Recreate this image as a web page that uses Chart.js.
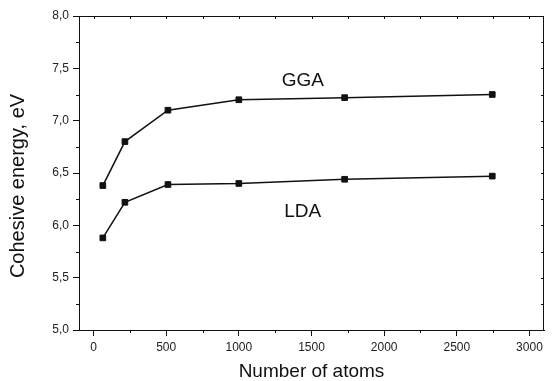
<!DOCTYPE html>
<html>
<head>
<meta charset="utf-8">
<script src="https://cdn.jsdelivr.net/npm/chart.js@4.4.0/dist/chart.umd.min.js"></script>
<style>
  html, body { margin: 0; padding: 0; background: #fff; }
  #chart { display: block; }
</style>
</head>
<body>
<canvas id="chart" width="558" height="381"></canvas>
<script>
// values
const atoms = [64, 216, 512, 1000, 1728, 2744];
const ggaEnergy = [6.38, 6.80, 7.10, 7.20, 7.22, 7.25];
const ldaEnergy = [5.88, 6.22, 6.39, 6.40, 6.44, 6.47];

const xMinorTicks = [250, 750, 1250, 1750, 2250, 2750];
const xMajorTicks = [0, 500, 1000, 1500, 2000, 2500, 3000];
const yMinorTicks = [5.25, 5.75, 6.25, 6.75, 7.25, 7.75];
const yMajorTicks = [5.0, 5.5, 6.0, 6.5, 7.0, 7.5, 8.0];

const FONT = '"Liberation Sans", Arial, sans-serif';
const INK = '#111';

function toPoints(xs, ys) {
  return xs.map((v, i) => ({ x: v, y: ys[i] }));
}

// frame, minor ticks, mirrored inner ticks and the in-plot text
const frameTicks = {
  id: 'frameTicks',
  afterDraw(chart) {
    const { ctx, chartArea: a, scales: { x, y } } = chart;
    ctx.save();
    ctx.strokeStyle = INK;
    ctx.lineWidth = 1;
    ctx.beginPath();
    // top + right border
    ctx.moveTo(a.left, a.top + 0.5); ctx.lineTo(a.right, a.top + 0.5);
    ctx.moveTo(a.right - 0.5, a.top); ctx.lineTo(a.right - 0.5, a.bottom);
    xMinorTicks.forEach((v) => {
      const px = Math.round(x.getPixelForValue(v)) + 0.5;
      ctx.moveTo(px, a.bottom); ctx.lineTo(px, a.bottom + 3);
    });
    yMinorTicks.forEach((v) => {
      const py = Math.round(y.getPixelForValue(v)) + 0.5;
      ctx.moveTo(a.left, py); ctx.lineTo(a.left - 3, py);
    });
    xMinorTicks.concat(xMajorTicks).forEach((v) => {
      const px = Math.round(x.getPixelForValue(v)) + 0.5;
      ctx.moveTo(px, a.top); ctx.lineTo(px, a.top + 3);
    });
    yMinorTicks.concat(yMajorTicks).forEach((v) => {
      const py = Math.round(y.getPixelForValue(v)) + 0.5;
      ctx.moveTo(a.right, py); ctx.lineTo(a.right - 3, py);
    });
    ctx.stroke();

    ctx.fillStyle = INK;
    ctx.textAlign = 'center';
    ctx.textBaseline = 'middle';
    ctx.font = `19px ${FONT}`;
    ctx.fillText('GGA', x.getPixelForValue(1440), y.getPixelForValue(7.38));
    ctx.fillText('LDA', x.getPixelForValue(1440), y.getPixelForValue(6.13));
    ctx.fillText('Number of atoms', (a.left + a.right) / 2, 372);

    ctx.translate(18, 186);
    ctx.rotate(-Math.PI / 2);
    ctx.font = `20px ${FONT}`;
    ctx.fillText('Cohesive energy, eV', 0, 0);
    ctx.restore();
  }
};

const seriesStyle = {
  borderColor: INK,
  backgroundColor: INK,
  borderWidth: 1.5,
  pointStyle: 'rect',
  pointRadius: 4,
  pointBorderWidth: 1,
  tension: 0,
  fill: false
};

new Chart(document.getElementById('chart'), {
  type: 'line',
  data: {
    datasets: [
      { label: 'GGA', data: toPoints(atoms, ggaEnergy), ...seriesStyle },
      { label: 'LDA', data: toPoints(atoms, ldaEnergy), ...seriesStyle }
    ]
  },
  options: {
    responsive: false,
    animation: false,
    layout: { padding: { top: 16, right: 14, left: 0, bottom: 0 } },
    plugins: { legend: { display: false }, tooltip: { enabled: false } },
    scales: {
      x: {
        type: 'linear',
        min: -100,
        max: 3100,
        afterFit: (s) => { s.height = 51; },
        afterBuildTicks: (s) => { s.ticks = xMajorTicks.map((v) => ({ value: v })); },
        border: { display: true, color: INK, width: 1 },
        grid: { display: true, drawOnChartArea: false, drawTicks: true, tickLength: 6, color: INK },
        ticks: {
          padding: 4,
          color: '#222',
          font: { family: FONT, size: 12 },
          maxRotation: 0,
          autoSkip: false,
          callback: (v) => String(v)
        }
      },
      y: {
        type: 'linear',
        min: 5,
        max: 8,
        afterFit: (s) => { s.width = 79; },
        afterBuildTicks: (s) => { s.ticks = yMajorTicks.map((v) => ({ value: v })); },
        border: { display: true, color: INK, width: 1 },
        grid: { display: true, drawOnChartArea: false, drawTicks: true, tickLength: 6, color: INK },
        ticks: {
          padding: 4,
          color: '#222',
          font: { family: FONT, size: 12 },
          autoSkip: false,
          callback: (v) => v.toFixed(1).replace('.', ',')
        }
      }
    }
  },
  plugins: [frameTicks]
});
</script>
</body>
</html>
